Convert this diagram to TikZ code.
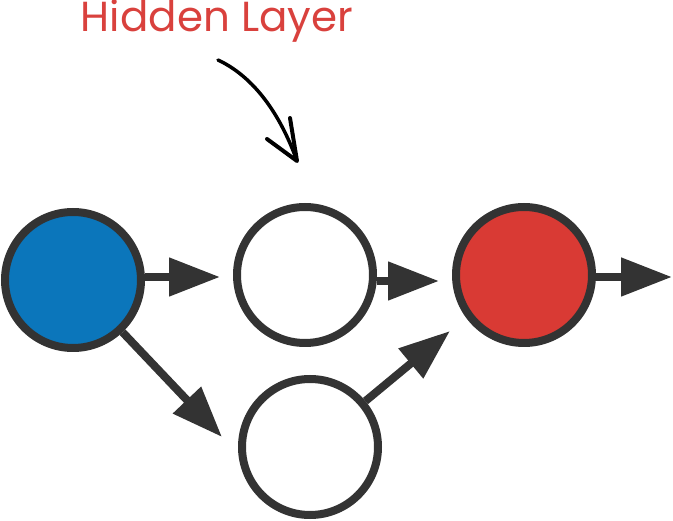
\documentclass[tikz,border=0pt]{standalone}
\usepackage{fontspec}
\setmainfont{Poppins}
\usetikzlibrary{arrows.meta}

\definecolor{inblue}{HTML}{0B76BB}
\definecolor{outred}{HTML}{D93A34}
\definecolor{edgegray}{HTML}{333333}
\definecolor{labelred}{HTML}{D9413D}

\begin{document}
\begin{tikzpicture}[x=1pt,y=-1pt,
    neuron/.style={circle, draw=edgegray, line width=8pt, minimum size=136pt, inner sep=0pt},
    arr/.style={draw=edgegray, line width=8pt, -{Triangle[length=51pt,width=37pt]}}]

\useasboundingbox (0,0) rectangle (673,521);

% Neuronen
\node[neuron, fill=inblue] (in) at (73,280) {};
\node[neuron, fill=white] (h1) at (305,275) {};
\node[neuron, fill=white] (h2) at (310,447) {};
\node[neuron, fill=outred] (out) at (524,275) {};

% Pfeilspitzen
\coordinate (t1) at (220,277);
\coordinate (t2) at (222,437);
\coordinate (t3) at (439,281);
\coordinate (t4) at (450,331);
\coordinate (t5) at (672,277);

% Verbindungen
\draw[arr] (in.east |- t1) -- (t1);
\draw[arr] (in) -- (t2);
\draw[arr] (h1.east |- t3) -- (t3);
\draw[arr] (h2) -- (t4);
\draw[arr] (out.east |- t5) -- (t5);

% Beschriftung
\node[text=labelred, font=\fontsize{42}{46}\selectfont, anchor=base, inner sep=0pt] (lbl) at (217,32) {Hidden Layer};

% Handgezeichneter Pfeil
\coordinate (c0) at (218,60);
\coordinate (c1) at (297,161);
\draw[line width=3.5pt, line cap=round] (c0) .. controls (250,75) and (278,108) .. (c1);
\draw[line width=4pt, line cap=round, line join=round] (290,118) -- (c1) -- (267,139);

\end{tikzpicture}
\end{document}
